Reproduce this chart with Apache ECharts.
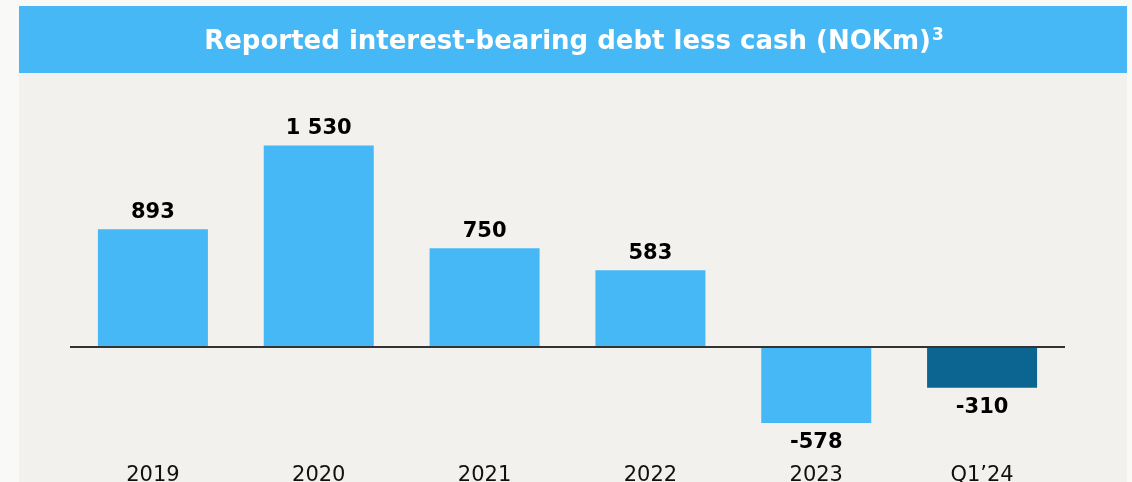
<!DOCTYPE html>
<html>
<head>
<meta charset="utf-8">
<script src="https://cdn.jsdelivr.net/npm/echarts@6/dist/echarts.min.js"></script>
<style>
  html, body { margin: 0; padding: 0; background: #f9f9f8; }
  #chart { width: 1132px; height: 482px; }
</style>
</head>
<body>
<div id="chart"></div>
<script>
// Reported interest-bearing debt less cash, NOKm
const categories = ['2019', '2020', '2021', '2022', '2023', 'Q1\u201924'];
const debtLessCash = [893, 1530, 750, 583, -578, -310];
const barColors = ['#45b8f5', '#45b8f5', '#45b8f5', '#45b8f5', '#45b8f5', '#0c6491'];
const titleMain = 'Reported interest-bearing debt less cash (NOKm)';
const titleNote = '3';

// thousands grouped with a space, e.g. 1 530
function fmt(v) {
  const s = String(Math.abs(v)).replace(/\B(?=(\d{3})+(?!\d))/g, ' ');
  return (v < 0 ? '-' : '') + s;
}

const chart = echarts.init(document.getElementById('chart'), null, { renderer: 'canvas' });

chart.setOption({
  backgroundColor: '#f9f9f8',
  animation: false,
  graphic: [
    { type: 'rect', z: -10, shape: { x: 19, y: 6, width: 1108, height: 476 }, style: { fill: '#f2f1ee' } },
    { type: 'rect', z: -9, shape: { x: 19, y: 6, width: 1108, height: 67 }, style: { fill: '#45b8f5' } },
    {
      type: 'text', z: 10, x: 574, y: 42,
      style: {
        text: '{a|' + titleMain + '}{b|' + titleNote + '}',
        align: 'center',
        verticalAlign: 'middle',
        rich: {
          a: { fill: '#ffffff', fontWeight: 'bold', fontSize: 26, fontFamily: '"DejaVu Sans", Verdana, sans-serif', lineHeight: 30 },
          b: { fill: '#ffffff', fontWeight: 'bold', fontSize: 17, fontFamily: '"DejaVu Sans", Verdana, sans-serif', verticalAlign: 'top', padding: [0, 0, 0, 1] }
        }
      }
    }
  ],
  // fixed plot box; labels below may run past the canvas edge
  grid: { left: 70, right: 67, top: 110, height: 329, containLabel: false, outerBoundsMode: 'none' },
  xAxis: {
    type: 'category',
    data: categories,
    axisLine: { show: false, onZero: false },
    axisTick: { show: false },
    axisLabel: {
      color: '#111111',
      fontFamily: '"DejaVu Sans", Verdana, sans-serif',
      fontSize: 21,
      margin: 26
    },
    splitLine: { show: false }
  },
  yAxis: {
    type: 'value',
    min: -700,
    max: 1800,
    show: false,
    splitLine: { show: false }
  },
  series: [{
    type: 'bar',
    barWidth: 110,
    data: debtLessCash.map((v, i) => ({
      value: v,
      itemStyle: { color: barColors[i] },
      label: { position: v < 0 ? 'bottom' : 'top', distance: v < 0 ? 9 : 6 }
    })),
    label: {
      show: true,
      color: '#000000',
      fontWeight: 'bold',
      fontFamily: '"DejaVu Sans", Verdana, sans-serif',
      fontSize: 21,
      formatter: p => fmt(p.value)
    },
    markLine: {
      silent: true,
      symbol: 'none',
      label: { show: false },
      lineStyle: { color: '#333333', width: 1.8, type: 'solid' },
      data: [{ yAxis: 0 }]
    }
  }]
});
</script>
</body>
</html>
